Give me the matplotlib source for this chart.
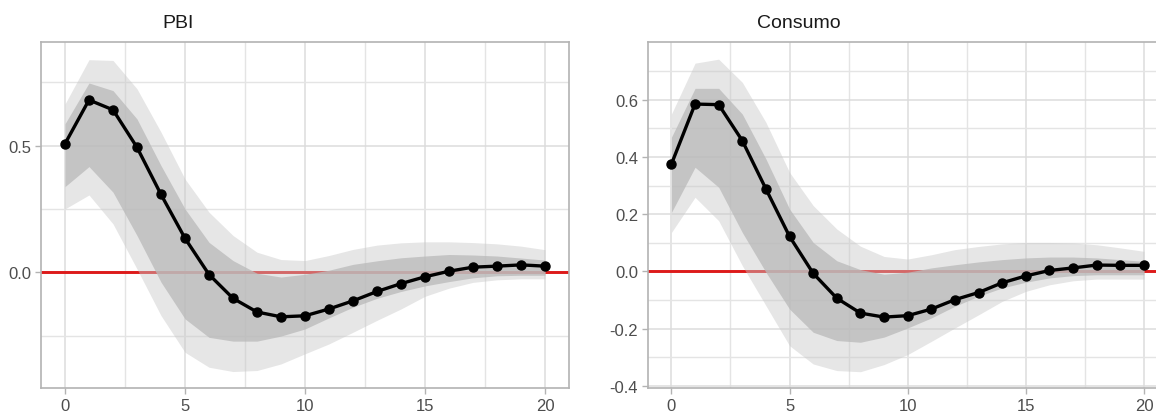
import matplotlib
matplotlib.use("Agg")
import matplotlib.pyplot as plt
import numpy as np

plt.rcParams['font.family'] = ['Liberation Sans', 'DejaVu Sans']

horizon = list(range(21))

# PBI
pbi_irf = [0.507, 0.680, 0.641, 0.493, 0.307, 0.134, -0.009, -0.103, -0.157, -0.176, -0.172,
           -0.145, -0.113, -0.076, -0.045, -0.018, 0.004, 0.020, 0.024, 0.029, 0.024]
pbi_hi68 = [0.586, 0.747, 0.717, 0.605, 0.421, 0.250, 0.118, 0.046, -0.004, -0.019, -0.008,
            0.008, 0.031, 0.045, 0.057, 0.064, 0.070, 0.068, 0.064, 0.056, 0.048]
pbi_lo68 = [0.338, 0.417, 0.316, 0.145, -0.039, -0.184, -0.257, -0.272, -0.272, -0.252, -0.224,
            -0.180, -0.138, -0.103, -0.076, -0.054, -0.037, -0.022, -0.014, -0.012, -0.012]
pbi_hi90 = [0.664, 0.839, 0.836, 0.724, 0.553, 0.368, 0.237, 0.145, 0.079, 0.050, 0.046,
            0.066, 0.090, 0.107, 0.116, 0.120, 0.120, 0.117, 0.112, 0.103, 0.089]
pbi_lo90 = [0.250, 0.305, 0.191, 0.013, -0.171, -0.316, -0.375, -0.392, -0.388, -0.362, -0.322,
            -0.283, -0.237, -0.190, -0.145, -0.095, -0.063, -0.040, -0.030, -0.026, -0.026]

# Consumo
con_irf = [0.375, 0.585, 0.583, 0.457, 0.288, 0.122, -0.007, -0.094, -0.146, -0.160, -0.155,
           -0.132, -0.099, -0.074, -0.040, -0.016, 0.003, 0.012, 0.022, 0.021, 0.021]
con_hi68 = [0.469, 0.640, 0.640, 0.550, 0.393, 0.218, 0.101, 0.037, 0.006, -0.010, -0.003,
            0.012, 0.023, 0.033, 0.041, 0.047, 0.050, 0.050, 0.047, 0.041, 0.035]
con_lo68 = [0.206, 0.364, 0.294, 0.136, -0.003, -0.132, -0.213, -0.242, -0.248, -0.230, -0.198,
            -0.163, -0.122, -0.087, -0.058, -0.038, -0.023, -0.015, -0.012, -0.012, -0.012]
con_hi90 = [0.550, 0.728, 0.742, 0.661, 0.521, 0.346, 0.230, 0.148, 0.088, 0.052, 0.043,
            0.058, 0.076, 0.087, 0.096, 0.101, 0.101, 0.099, 0.093, 0.082, 0.070]
con_lo90 = [0.136, 0.259, 0.177, 0.020, -0.120, -0.260, -0.324, -0.347, -0.351, -0.326, -0.291,
            -0.245, -0.198, -0.152, -0.105, -0.070, -0.047, -0.033, -0.027, -0.027, -0.027]

titles = ["PBI", "Consumo"]

W, H = 1156, 414
fig = plt.figure(figsize=(W / 100, H / 100), dpi=100)

def px_axes(left, right, top, bottom):
    return fig.add_axes([left / W, 1 - bottom / H, (right - left) / W, (bottom - top) / H])

ax1 = px_axes(41, 569, 42.7, 389)
ax2 = px_axes(647.8, 1167.6, 43.3, 389.3)

def draw(ax, irf, lo90, hi90, lo68, hi68, ylim, major, minor, labels):
    ax.set_xlim(-1, 21)
    ax.set_ylim(*ylim)
    ax.set_xticks([0, 5, 10, 15, 20])
    ax.set_xticks([2.5, 7.5, 12.5, 17.5], minor=True)
    ax.set_yticks(major)
    ax.set_yticklabels(labels)
    ax.set_yticks(minor, minor=True)
    ax.grid(True, which='major', color='#dcdcdc', lw=1.1, zorder=0)
    ax.grid(True, which='minor', color='#e4e4e4', lw=1.0, zorder=0)
    ax.set_axisbelow(True)
    ax.axhline(0, color='#dd1a1a', lw=2.1, zorder=2)
    ax.fill_between(horizon, lo90, hi90, color=(200/255, 200/255, 200/255), alpha=0.45,
                    lw=0, zorder=3)
    ax.fill_between(horizon, lo68, hi68, color=(187/255, 187/255, 187/255), alpha=0.79,
                    lw=0, zorder=4)
    ax.plot(horizon, irf, color='black', lw=2.4, marker='o', ms=6.5, zorder=5)
    for s in ax.spines.values():
        s.set_color('#b3b3b3')
        s.set_linewidth(1.2)
    ax.tick_params(which='major', length=4, width=1, color='#b3b3b3', labelsize=12,
                   labelcolor='#4d4d4d', pad=3)
    ax.tick_params(which='minor', length=0)

draw(ax1, pbi_irf, pbi_lo90, pbi_hi90, pbi_lo68, pbi_hi68, (-0.457, 0.910),
     [0.0, 0.5], [-0.25, 0.25, 0.75], ["0.0", "0.5"])
draw(ax2, con_irf, con_lo90, con_hi90, con_lo68, con_hi68, (-0.409, 0.801),
     [-0.4, -0.2, 0.0, 0.2, 0.4, 0.6], [-0.3, -0.1, 0.1, 0.3, 0.5, 0.7],
     ["-0.4", "-0.2", "0.0", "0.2", "0.4", "0.6"])

fig.text(178 / W, 1 - 23 / H, titles[0], ha='center', va='center', fontsize=14, color='#1a1a1a')
fig.text(799 / W, 1 - 23 / H, titles[1], ha='center', va='center', fontsize=14, color='#1a1a1a')

fig.savefig("out.png", dpi=100)
